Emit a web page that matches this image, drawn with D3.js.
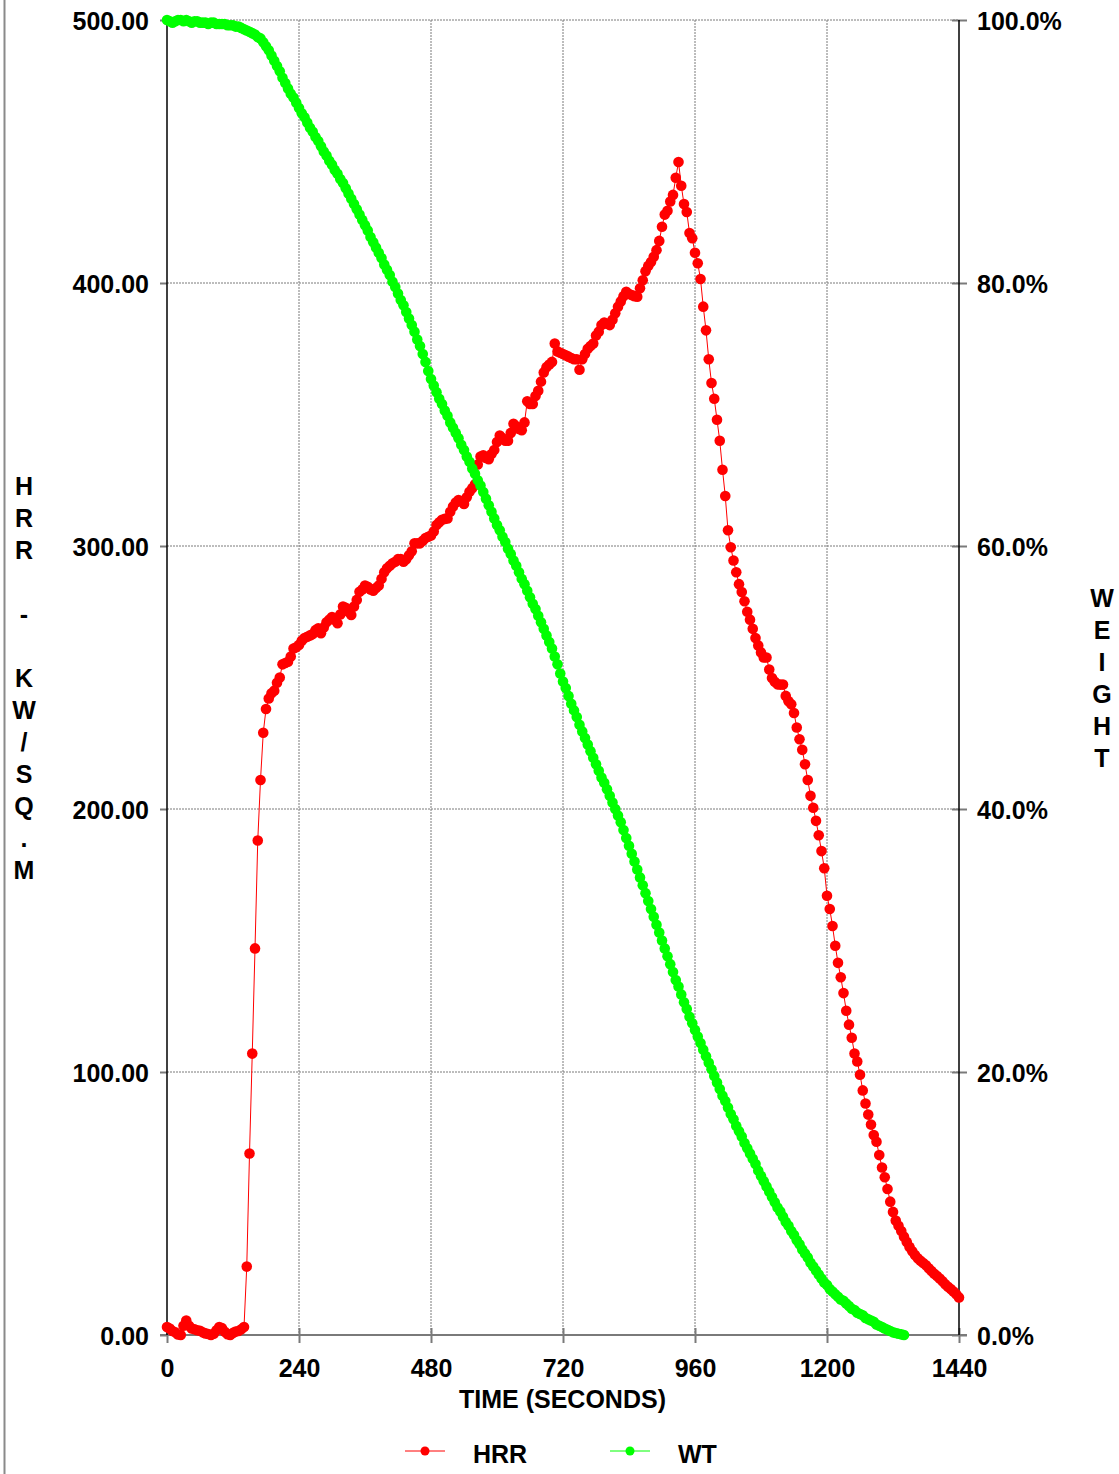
<!DOCTYPE html>
<html>
<head>
<meta charset="utf-8">
<script src="https://cdn.jsdelivr.net/npm/d3@7"></script>
<style>
  body { margin: 0; background: #fff; }
  svg text { font-family: "Liberation Sans", Arial, sans-serif; font-weight: bold; fill: #000; }
</style>
</head>
<body>
<div id="chart"></div>
<script>
// sample interval of the test log (seconds)
const STEP = 5;

// heat release rate, kW/m2, every 5 s from 0 to 1440 s
const hrrValues = [
  3.0, 2.5, 1.5, 1.0, 0.2, 0.0, 3.5, 5.5, 3.5, 2.5, 2.2, 1.8, 1.6, 1.0, 0.6, 0.4, 0.0, 0.5, 1.8, 3.0,
  2.6, 1.2, 0.3, 0.0, 0.8, 1.3, 1.5, 2.2, 3.0, 26, 69, 107, 147, 188, 211, 229, 238, 242, 244, 245,
  248, 250, 255, 255.5, 256, 258, 261, 261.5, 262.4, 264, 265, 265.5, 266, 266.5, 268, 268.7, 266.8, 269, 271, 272,
  273, 272, 270.6, 274, 277, 276.5, 275, 273.8, 277, 279.5, 282.6, 283.5, 285, 284.5, 283.5, 283, 284, 285, 287.5, 290,
  291.5, 292.5, 293.4, 294, 295, 295, 294, 295, 296.5, 298, 301, 301, 301, 302, 303, 303.5, 304, 305.5, 308, 309,
  310, 310.3, 310.5, 313, 315, 316.5, 317.5, 317, 316, 318.5, 320.6, 322, 323.5, 331, 334, 334.5, 333.5, 333, 335, 336.5,
  339.5, 342, 341, 340, 340, 343, 346.5, 345.5, 344.5, 344, 347, 355, 354, 354, 357, 359, 362.5, 366, 368, 369,
  370, 377, 374, 373.5, 373, 372.5, 372, 371.5, 371, 371, 367, 371, 373, 375, 376, 377, 380, 381.5, 384, 385,
  384.5, 384, 386, 388.5, 391, 393, 395, 396.7, 395.8, 395.4, 395, 394.8, 398, 401, 404.5, 406.5, 408, 410, 412.5, 416,
  421.4, 426, 427.5, 431, 433.5, 440, 446, 437, 430, 427, 419, 417, 411.5, 407.5, 401.5, 391, 382, 371, 362, 356,
  348, 340, 329, 319, 306, 299.5, 294.5, 290, 285.5, 282.5, 279, 275, 272, 268.5, 265, 262.2, 259.5, 257.6, 257.6, 253,
  249.8, 248.4, 247.4, 247.3, 247.3, 243, 241, 239.8, 236.5, 231, 226.5, 222.5, 217, 211, 205, 200.5, 195.5, 190, 184, 177.5,
  167, 162, 155.5, 148, 141.5, 136, 130, 123.3, 118, 113, 107, 104, 99, 93, 88, 83.8, 80, 76, 73.5, 68.4,
  63.7, 60, 55.5, 50.7, 46.8, 43.5, 41.5, 39.5, 37.4, 35.4, 33.5, 31.8, 30.4, 29.2, 28.2, 27.4, 26.5, 25.4, 24.3, 23.3,
  22.4, 21.5, 20.4, 19.3, 18.3, 17.5, 16.5, 15.5, 14.3
];

// remaining weight, %, every 5 s from 0 to 1340 s
const wtValues = [
  100, 99.9, 99.8, 99.9, 100, 100, 99.9, 100, 99.9, 99.8, 99.9, 99.9, 99.8, 99.8, 99.8, 99.7, 99.8, 99.8, 99.7, 99.7,
  99.7, 99.7, 99.6, 99.6, 99.6, 99.5, 99.5, 99.4, 99.3, 99.2, 99.1, 99.0, 98.9, 98.7, 98.6, 98.3, 98.0, 97.7, 97.3, 96.9,
  96.5, 96.1, 95.6, 95.2, 94.8, 94.4, 94.1, 93.7, 93.3, 92.9, 92.6, 92.2, 91.8, 91.5, 91.1, 90.8, 90.4, 90.0, 89.7, 89.3,
  89.0, 88.6, 88.3, 87.9, 87.6, 87.2, 86.8, 86.4, 86.0, 85.6, 85.2, 84.8, 84.4, 84.0, 83.5, 83.1, 82.7, 82.3, 81.9, 81.4,
  81.0, 80.6, 80.1, 79.7, 79.2, 78.7, 78.3, 77.8, 77.3, 76.8, 76.3, 75.7, 75.2, 74.6, 74.0, 73.3, 72.7, 72.2, 71.7, 71.2,
  70.8, 70.3, 69.9, 69.4, 69.0, 68.6, 68.2, 67.7, 67.3, 66.8, 66.4, 65.9, 65.5, 65.0, 64.6, 64.1, 63.6, 63.1, 62.6, 62.1,
  61.6, 61.2, 60.7, 60.3, 59.8, 59.4, 58.9, 58.5, 58.0, 57.5, 57.1, 56.6, 56.1, 55.6, 55.2, 54.7, 54.2, 53.7, 53.2, 52.7,
  52.2, 51.6, 51.0, 50.3, 49.7, 49.2, 48.6, 48.0, 47.5, 47.0, 46.4, 45.9, 45.4, 44.9, 44.4, 43.9, 43.4, 42.9, 42.4, 42.0,
  41.5, 41.0, 40.5, 40.0, 39.5, 39.0, 38.4, 37.8, 37.2, 36.6, 36.0, 35.4, 34.8, 34.2, 33.6, 33.0, 32.4, 31.8, 31.2, 30.6,
  30.0, 29.4, 28.8, 28.2, 27.6, 27.0, 26.5, 25.9, 25.3, 24.8, 24.2, 23.7, 23.2, 22.7, 22.2, 21.7, 21.2, 20.7, 20.2, 19.7,
  19.2, 18.7, 18.2, 17.8, 17.3, 16.8, 16.4, 15.9, 15.5, 15.1, 14.6, 14.2, 13.8, 13.4, 13.0, 12.5, 12.1, 11.7, 11.3, 10.9,
  10.5, 10.1, 9.7, 9.4, 9.0, 8.6, 8.3, 7.9, 7.6, 7.2, 6.9, 6.5, 6.2, 5.9, 5.5, 5.2, 4.9, 4.6, 4.3, 4.0,
  3.8, 3.5, 3.3, 3.1, 2.9, 2.7, 2.6, 2.4, 2.2, 2.0, 1.9, 1.7, 1.6, 1.5, 1.3, 1.2, 1.1, 1.0, 0.8, 0.7,
  0.6, 0.5, 0.4, 0.3, 0.2, 0.15, 0.1, 0.05, 0.0
];

const xTicks = [0, 240, 480, 720, 960, 1200, 1440];
const hrrTicks = [0, 100, 200, 300, 400, 500];
const wtTicks = [0, 20, 40, 60, 80, 100];

const hrrTitle = "HRR - KW/SQ.M";
const wtTitle = "WEIGHT";
const xTitle = "TIME (SECONDS)";
const legendItems = [
  { name: "HRR", color: "#ff0000" },
  { name: "WT", color: "#00ff00" }
];

const W = 1119, H = 1474;
const plot = { left: 167, right: 959, top: 20, bottom: 1335 };

const svg = d3.select("#chart").append("svg")
  .attr("width", W)
  .attr("height", H);

svg.append("rect").attr("width", W).attr("height", H).attr("fill", "#fff");

// frame line at the left edge
svg.append("line")
  .attr("x1", 4.5).attr("x2", 4.5)
  .attr("y1", 0).attr("y2", H)
  .attr("stroke", "#8a8a8a").attr("stroke-width", 2);

const x = d3.scaleLinear().domain([0, 1440]).range([plot.left, plot.right]);
const yL = d3.scaleLinear().domain([0, 500]).range([plot.bottom, plot.top]);
const yR = d3.scaleLinear().domain([0, 100]).range([plot.bottom, plot.top]);

// grid
svg.append("g")
  .selectAll("line")
  .data(xTicks.slice(1, -1))
  .join("line")
  .attr("x1", d => x(d)).attr("x2", d => x(d))
  .attr("y1", plot.top).attr("y2", plot.bottom)
  .attr("stroke", "#7a7a7a")
  .attr("stroke-dasharray", "2,1");

svg.append("g")
  .selectAll("line")
  .data(hrrTicks.slice(1))
  .join("line")
  .attr("x1", plot.left).attr("x2", plot.right)
  .attr("y1", d => yL(d)).attr("y2", d => yL(d))
  .attr("stroke", "#7a7a7a")
  .attr("stroke-dasharray", "2,1");

// left axis
const axL = svg.append("g")
  .attr("transform", `translate(${plot.left},0)`)
  .call(d3.axisLeft(yL).tickValues(hrrTicks).tickFormat(d3.format(".2f")).tickSize(7).tickPadding(11));
axL.select(".domain").remove();
axL.selectAll(".tick line").attr("stroke", "#7a7a7a").attr("stroke-width", 2);
axL.selectAll(".tick text").style("font-size", "25px").attr("dy", "0.36em");

// right axis
const axR = svg.append("g")
  .attr("transform", `translate(${plot.right},0)`)
  .call(d3.axisRight(yR).tickValues(wtTicks).tickFormat(d => d3.format(".1f")(d) + "%").tickSize(8).tickPadding(10));
axR.select(".domain").remove();
axR.selectAll(".tick line").attr("stroke", "#7a7a7a").attr("stroke-width", 2).attr("x1", -7);
axR.selectAll(".tick text").style("font-size", "25px").attr("dy", "0.36em");

// bottom axis
const axB = svg.append("g")
  .attr("transform", `translate(0,${plot.bottom})`)
  .call(d3.axisBottom(x).tickValues(xTicks).tickFormat(d3.format("d")).tickSize(8));
axB.select(".domain").remove();
axB.selectAll(".tick line").attr("stroke", "#7a7a7a").attr("stroke-width", 2).attr("y1", -7);
axB.selectAll(".tick text").style("font-size", "25px").attr("y", 42).attr("dy", null);

svg.append("line")
  .attr("x1", plot.left - 7).attr("x2", plot.right + 8)
  .attr("y1", plot.bottom).attr("y2", plot.bottom)
  .attr("stroke", "#7a7a7a").attr("stroke-width", 2);

svg.append("line")
  .attr("x1", plot.left).attr("x2", plot.left)
  .attr("y1", plot.top).attr("y2", plot.bottom)
  .attr("stroke", "#000").attr("stroke-width", 1.5);

svg.append("line")
  .attr("x1", plot.right).attr("x2", plot.right)
  .attr("y1", plot.top).attr("y2", plot.bottom)
  .attr("stroke", "#000").attr("stroke-width", 1.5);

// series
const hrr = hrrValues.map((v, i) => ({ t: i * STEP, v: v }));
const wt = wtValues.map((v, i) => ({ t: i * STEP, v: v }));

function drawSeries(data, yScale, color) {
  svg.append("path")
    .datum(data)
    .attr("fill", "none")
    .attr("stroke", color)
    .attr("stroke-width", 1)
    .attr("d", d3.line().x(d => x(d.t)).y(d => yScale(d.v)));

  svg.append("g")
    .selectAll("circle")
    .data(data)
    .join("circle")
    .attr("cx", d => x(d.t))
    .attr("cy", d => yScale(d.v))
    .attr("r", 5.3)
    .attr("fill", color);
}

drawSeries(hrr, yL, legendItems[0].color);
drawSeries(wt, yR, legendItems[1].color);

// titles
svg.append("text")
  .attr("x", (plot.left + plot.right) / 2 - 0.5)
  .attr("y", 1408)
  .attr("text-anchor", "middle")
  .style("font-size", "25px")
  .text(xTitle);

function stackedTitle(str, cx, y0) {
  svg.append("g")
    .selectAll("text")
    .data(str.split(""))
    .join("text")
    .attr("x", cx)
    .attr("y", (d, i) => y0 + i * 32)
    .attr("dy", "0.36em")
    .attr("text-anchor", "middle")
    .style("font-size", "25px")
    .text(d => d);
}

stackedTitle(hrrTitle, 24, 486);
stackedTitle(wtTitle, 1102, 598);

// legend
const legend = svg.append("g")
  .selectAll("g")
  .data(legendItems)
  .join("g")
  .attr("transform", (d, i) => `translate(${405 + i * 205},1451)`);

legend.append("line")
  .attr("x1", 0).attr("x2", 40)
  .attr("stroke", d => d.color)
  .attr("stroke-width", 1);

legend.append("circle")
  .attr("cx", 20)
  .attr("r", 4.5)
  .attr("fill", d => d.color);

legend.append("text")
  .attr("x", 68)
  .attr("y", 11.5)
  .style("font-size", "25px")
  .text(d => d.name);
</script>
</body>
</html>
